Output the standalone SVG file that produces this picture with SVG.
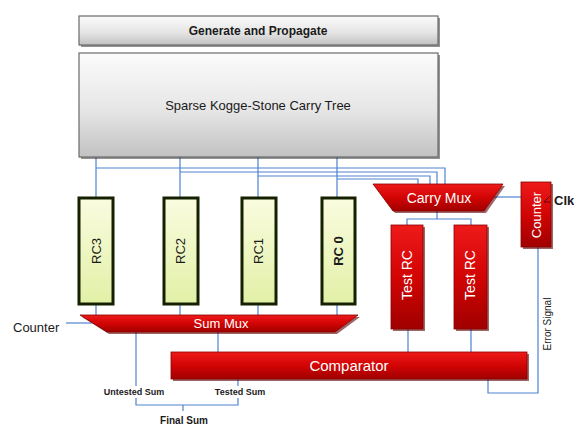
<svg xmlns="http://www.w3.org/2000/svg" width="574" height="428" viewBox="0 0 574 428">
  <defs>
    <linearGradient id="grayFill" x1="0" y1="0" x2="0" y2="1">
      <stop offset="0" stop-color="#fbfbfb"/>
      <stop offset="0.55" stop-color="#e6e6e6"/>
      <stop offset="1" stop-color="#c2c2c2"/>
    </linearGradient>
    <linearGradient id="redFill" x1="0" y1="0" x2="0" y2="1">
      <stop offset="0" stop-color="#ee1a1a"/>
      <stop offset="0.5" stop-color="#d20404"/>
      <stop offset="1" stop-color="#a00000"/>
    </linearGradient>
    <linearGradient id="rcFill" x1="0" y1="0" x2="0" y2="1">
      <stop offset="0" stop-color="#fafce0"/>
      <stop offset="1" stop-color="#e2f0a6"/>
    </linearGradient>
  </defs>
  <style>
    .gray { fill: url(#grayFill); stroke: #6a6a6a; stroke-width: 1.2; }
    .shadow { fill: #3a3a3a; opacity: 0.55; }
    .redshadow { fill: #5a0000; opacity: 0.6; }
    .red { fill: url(#redFill); stroke: #8a0000; stroke-width: 0.8; }
    .rc { fill: url(#rcFill); stroke: #142000; stroke-width: 3; }
    .wire { fill: none; stroke: #4f82d2; stroke-width: 1.2; }
    .dark { font-family: "Liberation Sans", Arial, sans-serif; fill: #1a1a1a; }
    .white { font-family: "Liberation Sans", Arial, sans-serif; fill: #ffffff; }
  </style>

  <!-- wiring -->
  <g id="connectors">
    <!-- carry tree to ripple-carry blocks -->
    <path class="wire" d="M96 157 V197 M180 157 V197 M258 157 V197 M337 157 V197"/>
    <!-- carry buses to carry mux -->
    <path class="wire" d="M96 168 H445 V184"/>
    <path class="wire" d="M180 172 H437 V184"/>
    <path class="wire" d="M258 176 H430 V184"/>
    <path class="wire" d="M337 179 H418 V184"/>
    <!-- carry mux to counter -->
    <path class="wire" d="M490 197 H521"/>
    <!-- carry mux to test blocks -->
    <path class="wire" d="M437 211 V219 M407 225 V219 H471 V225"/>
    <!-- RC outputs to sum mux -->
    <path class="wire" d="M96 305 V315 M180 305 V315 M258 305 V315 M337 305 V315"/>
    <!-- counter select -->
    <path class="wire" d="M66 323 H92"/>
    <!-- test blocks to comparator -->
    <path class="wire" d="M408 329 V352 M471 329 V352"/>
    <!-- sum mux to comparator -->
    <path class="wire" d="M218 332 V352"/>
    <!-- untested / tested sum to final sum -->
    <path class="wire" d="M136 332 V386 M136 398 V405 H238 V398 M238 386 V379 M183 405 V411"/>
    <!-- error signal back to counter -->
    <path class="wire" d="M488 379 V393 H538 V247"/>
  </g>

  <g id="generate-propagate">
    <rect class="shadow" x="81" y="18" width="359" height="29"/>
    <rect class="gray" x="79" y="16" width="359" height="29"/>
    <text class="dark" x="258" y="35" font-size="12" font-weight="bold" text-anchor="middle">Generate and Propagate</text>
  </g>

  <g id="carry-tree">
    <rect class="shadow" x="81" y="55" width="359" height="104"/>
    <rect class="gray" x="79" y="53" width="359" height="104"/>
    <text class="dark" x="258" y="110" font-size="13" text-anchor="middle">Sparse Kogge-Stone Carry Tree</text>
  </g>

  <g id="rc3">
    <rect class="rc" x="79" y="198" width="34" height="106"/>
    <text class="dark" font-size="13" text-anchor="middle" transform="translate(101 251) rotate(-90)">RC3</text>
  </g>
  <g id="rc2">
    <rect class="rc" x="164" y="198" width="34" height="106"/>
    <text class="dark" font-size="13" text-anchor="middle" transform="translate(185 251) rotate(-90)">RC2</text>
  </g>
  <g id="rc1">
    <rect class="rc" x="242" y="198" width="34" height="106"/>
    <text class="dark" font-size="13" text-anchor="middle" transform="translate(263 251) rotate(-90)">RC1</text>
  </g>
  <g id="rc0">
    <rect class="rc" x="322" y="198" width="33" height="106"/>
    <text class="dark" font-size="13" font-weight="bold" text-anchor="middle" transform="translate(343 251) rotate(-90)">RC 0</text>
  </g>

  <g id="carry-mux">
    <polygon class="redshadow" points="375,186 505,186 486,213 395,213"/>
    <polygon class="red" points="373,184 503,184 484,211 393,211"/>
    <text class="white" x="439" y="203" font-size="14" text-anchor="middle">Carry Mux</text>
  </g>

  <g id="counter">
    <rect class="redshadow" x="523" y="184" width="30" height="65"/>
    <rect class="red" x="521" y="182" width="30" height="65"/>
    <text class="white" font-size="13" text-anchor="middle" transform="translate(541 215) rotate(-90)">Counter</text>
    <path d="M550 196 L544 202 H550" fill="none" stroke="#6a0000" stroke-width="1"/>
    <text class="dark" x="554" y="205" font-size="13" font-weight="bold">Clk</text>
  </g>

  <g id="test-rc-1">
    <rect class="redshadow" x="393" y="227" width="32" height="104"/>
    <rect class="red" x="391" y="225" width="32" height="104"/>
    <text class="white" font-size="14" text-anchor="middle" transform="translate(412 275) rotate(-90)">Test RC</text>
  </g>
  <g id="test-rc-2">
    <rect class="redshadow" x="456" y="227" width="33" height="104"/>
    <rect class="red" x="454" y="225" width="33" height="104"/>
    <text class="white" font-size="14" text-anchor="middle" transform="translate(475 275) rotate(-90)">Test RC</text>
  </g>

  <g id="sum-mux">
    <polygon class="redshadow" points="82,317 360,317 337,334 109,334"/>
    <polygon class="red" points="80,315 358,315 335,332 107,332"/>
    <text class="white" x="221" y="328" font-size="13" text-anchor="middle">Sum Mux</text>
    <text class="dark" x="13" y="332" font-size="13">Counter</text>
  </g>

  <g id="comparator">
    <rect class="redshadow" x="173" y="354" width="356" height="27"/>
    <rect class="red" x="171" y="352" width="356" height="27"/>
    <text class="white" x="349" y="371" font-size="15" text-anchor="middle">Comparator</text>
  </g>

  <g id="outputs">
    <text class="dark" x="134" y="395" font-size="9" font-weight="bold" text-anchor="middle">Untested Sum</text>
    <text class="dark" x="240" y="395" font-size="9" font-weight="bold" text-anchor="middle">Tested Sum</text>
    <text class="dark" x="184" y="424" font-size="10" font-weight="bold" text-anchor="middle">Final Sum</text>
    <text class="dark" font-size="10" text-anchor="middle" transform="translate(551 324) rotate(-90)">Error Signal</text>
  </g>
</svg>
